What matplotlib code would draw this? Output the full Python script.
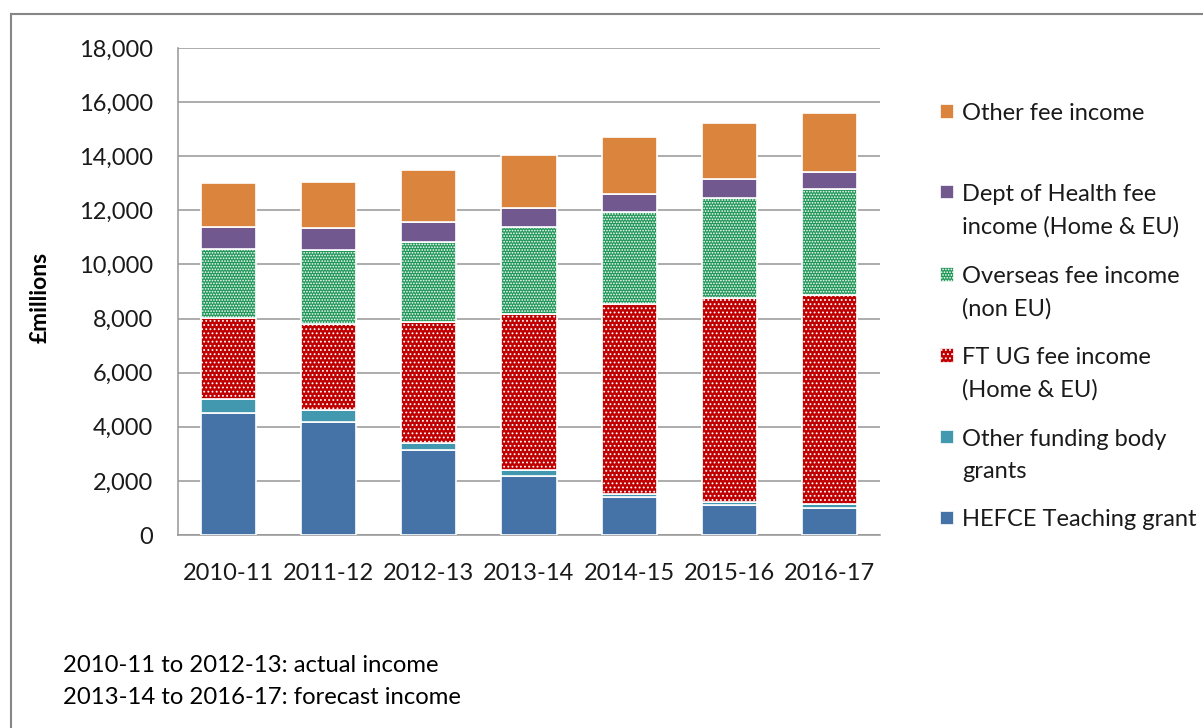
import numpy as np
import matplotlib.pyplot as plt
from matplotlib.patches import Rectangle
from matplotlib.lines import Line2D
from matplotlib.ticker import FuncFormatter

plt.rcParams['font.family'] = ['Lato', 'DejaVu Sans']
plt.rcParams['hatch.linewidth'] = 0.8

# teaching income by source, £ millions
years = ['2010-11', '2011-12', '2012-13', '2013-14', '2014-15', '2015-16', '2016-17']
hefce = [4500, 4170, 3140, 2180, 1390, 1110, 1010]
other_funding = [540, 450, 250, 220, 120, 100, 130]
ft_ug = [2990, 3170, 4500, 5770, 7040, 7560, 7730]
overseas = [2550, 2750, 2930, 3230, 3400, 3680, 3910]
doh = [810, 800, 760, 700, 670, 700, 650]
other_fee = [1610, 1710, 1910, 1950, 2080, 2070, 2180]

labels = ['HEFCE Teaching grant', 'Other funding body\ngrants',
          'FT UG fee income\n(Home & EU)', 'Overseas fee income\n(non EU)',
          'Dept of Health fee\nincome (Home & EU)', 'Other fee income']
colors = ['#4572A7', '#4198AF', '#C00000', '#22975A', '#71588F', '#DB843D']
hatches = [None, None, '....', '......', None, None]
series = [hefce, other_funding, ft_ug, overseas, doh, other_fee]

W, H = 1203, 728
fig = plt.figure(figsize=(W / 100, H / 100), dpi=100)
ax = fig.add_axes([178 / W, 1 - 535 / H, (880 - 178) / W, (535 - 48) / H])

x = np.arange(len(years))
bottom = np.zeros(len(years))
for vals, col, hat in zip(series, colors, hatches):
    ax.bar(x, vals, width=0.55, bottom=bottom, color=col, hatch=hat,
           edgecolor='white', linewidth=1.2, zorder=3)
    bottom += np.array(vals)

ax.set_xlim(-0.5, len(years) - 0.5)
ax.set_ylim(0, 18000)
ax.set_yticks(np.arange(0, 18001, 2000))
ax.yaxis.set_major_formatter(FuncFormatter(lambda v, p: f'{int(v):,}'))
ax.set_xticks(x)
ax.set_xticklabels(years)
ax.tick_params(axis='both', length=0, labelsize=17, colors='#1a1a1a')
ax.tick_params(axis='y', pad=18)
ax.tick_params(axis='x', pad=20)
ax.grid(axis='y', color='#969696', linewidth=1.1, zorder=0)
for side in ['top', 'right']:
    ax.spines[side].set_visible(False)
for side in ['left', 'bottom']:
    ax.spines[side].set_color('#969696')
    ax.spines[side].set_linewidth(1.1)

fig.text(40 / W, 1 - 297 / H, '£millions', rotation=90, fontsize=16.5,
         fontweight='bold', ha='center', va='center')

# legend, top entry first, marker level with the first line of text
legend_y = [517, 437, 355, 274, 192, 111]
for lab, col, hat, yy in zip(labels, colors, hatches, legend_y):
    fig.add_artist(Rectangle((940 / W, 1 - (yy + 6.5) / H), 13 / W, 13 / H,
                             transform=fig.transFigure, facecolor=col,
                             hatch=hat, edgecolor='white', linewidth=0.5))
    fig.text(962 / W, 1 - (yy - 8) / H, lab, fontsize=17, ha='left', va='top',
             linespacing=1.62, color='#1a1a1a')

fig.text(63 / W, 1 - 665 / H, '2010-11 to 2012-13: actual income',
         fontsize=17.2, ha='left', va='center')
fig.text(63 / W, 1 - 697 / H, '2013-14 to 2016-17: forecast income',
         fontsize=17.2, ha='left', va='center')

# outer chart frame
fig.add_artist(Line2D([11 / W, 11 / W], [0, 1 - 14 / H], transform=fig.transFigure,
                      color='#868686', linewidth=1.5))
fig.add_artist(Line2D([11 / W, 1], [1 - 14 / H, 1 - 14 / H], transform=fig.transFigure,
                      color='#868686', linewidth=1.5))

fig.savefig('out.png', dpi=100)
